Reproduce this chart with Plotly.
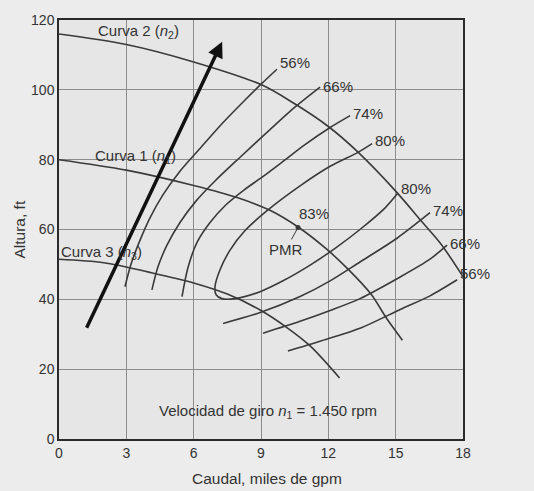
import plotly.graph_objects as go

# Head curves H(Q) for three pump speeds (Q in thousands of gpm, H in ft)
curve2_q = [0, 3, 6, 9, 10.5, 12, 13.3, 15, 16.2, 17, 18]
curve2_h = [116, 113, 108, 101.5, 96, 89.5, 82.3, 71, 62, 56, 46.5]

curve1_q = [0, 3, 6, 8, 9.4, 10.7, 11.9, 12.9, 13.9, 14.6, 15.3]
curve1_h = [80, 77, 72.6, 69, 65.5, 60.5, 54.5, 48.5, 41.5, 34.5, 28.3]

curve3_q = [0, 2, 4, 6, 7.5, 9, 10.2, 11.2, 12.5]
curve3_h = [51.5, 50.5, 47.8, 44.7, 41.5, 36.8, 31.7, 26.6, 17.5]

# Iso-efficiency lines: left (steep) branches
eff56_left_q = [2.94, 3.21, 3.57, 4.06, 4.63, 5.39, 6.28, 7.26, 8.29, 9.05, 9.71]
eff56_left_h = [43.6, 50.1, 56.3, 63.4, 69.9, 76.7, 83.2, 90.3, 97.1, 101.9, 105.9]

eff66_left_q = [4.14, 4.41, 4.81, 5.39, 6.11, 6.95, 8.07, 9.40, 10.52, 11.63]
eff66_left_h = [42.7, 49.3, 55.5, 62.0, 68.2, 73.9, 80.7, 88.6, 95.1, 100.8]

eff74_left_q = [5.48, 5.75, 6.15, 6.73, 7.44, 8.24, 9.05, 9.94, 10.96, 12.08, 12.97]
eff74_left_h = [40.8, 49.2, 56.3, 62.0, 67.1, 71.3, 75.0, 79.3, 84.3, 89.2, 92.6]

# 80 % line closes into a loop around the best efficiency point
eff80_loop_q = [13.95, 13.32, 12.08, 10.74, 9.27, 8.29, 7.62, 7.17, 6.95, 7.0,
                7.26, 7.84, 8.96, 9.98, 11.19, 12.3, 13.41, 14.53, 15.11]
eff80_loop_h = [84.6, 82.1, 78.1, 72.5, 65.4, 59.7, 54.1, 48.4, 43.6, 41.3,
                40.2, 40.2, 42.2, 45.3, 49.8, 54.6, 60.0, 66.2, 70.5]

# Iso-efficiency lines: right (lower) branches
eff74_right_q = [7.31, 8.96, 10.74, 12.08, 13.41, 15.06, 16.53]
eff74_right_h = [33.1, 36.2, 40.8, 45.3, 50.7, 57.5, 64.8]

eff66_right_q = [9.09, 10.74, 12.08, 13.41, 15.2, 16.53, 17.29]
eff66_right_h = [30.3, 33.7, 36.8, 40.2, 46.4, 51.5, 55.5]

eff56_right_q = [10.2, 11.63, 13.41, 15.2, 16.53, 17.74]
eff56_right_h = [25.2, 28.0, 31.7, 37.1, 41.0, 45.6]

# Best efficiency point (PMR) on curve 1
bep_q = 10.65
bep_h = 60.6

# Direction of increasing speed
speed_arrow_q = [1.2, 7.27]
speed_arrow_h = [31.4, 113.8]

x_ticks = [0, 3, 6, 9, 12, 15, 18]
y_ticks = [0, 20, 40, 60, 80, 100, 120]

LINE = "#3a3a3a"
TEXT = "#333333"
FONT = "Arial, Liberation Sans, sans-serif"
LABEL_SIZE = 15

fig = go.Figure()


def add_line(q, h, smooth=0.9):
    fig.add_trace(go.Scatter(
        x=q, y=h, mode="lines",
        line=dict(color=LINE, width=1.6, shape="spline", smoothing=smooth),
        hoverinfo="skip", showlegend=False, cliponaxis=False,
    ))


for q, h in [(curve2_q, curve2_h), (curve1_q, curve1_h), (curve3_q, curve3_h)]:
    add_line(q, h)

efficiency_lines = [
    (eff56_left_q, eff56_left_h, "56%", 7),
    (eff66_left_q, eff66_left_h, "66%", 1),
    (eff74_left_q, eff74_left_h, "74%", 2),
    (eff80_loop_q, eff80_loop_h, "80%", 4),
    (eff74_right_q, eff74_right_h, "74%", 2),
    (eff66_right_q, eff66_right_h, "66%", 2),
    (eff56_right_q, eff56_right_h, "56%", 6),
]
for q, h, lab, dy in efficiency_lines:
    add_line(q, h, smooth=0.8)
    fig.add_annotation(x=q[-1], y=h[-1], text=lab, showarrow=False,
                       xanchor="left", yanchor="middle", xshift=1, yshift=dy,
                       font=dict(family=FONT, size=LABEL_SIZE, color=TEXT))
# upper end of the 80 % loop carries its own label
fig.add_annotation(x=eff80_loop_q[0], y=eff80_loop_h[0], text="80%", showarrow=False,
                   xanchor="left", yanchor="middle", xshift=1, yshift=3,
                   font=dict(family=FONT, size=LABEL_SIZE, color=TEXT))

# PMR marker
fig.add_trace(go.Scatter(x=[bep_q], y=[bep_h], mode="markers",
                         marker=dict(color=LINE, size=5),
                         hoverinfo="skip", showlegend=False))
fig.add_annotation(x=bep_q, y=bep_h, text="83%", showarrow=False,
                   xanchor="left", yanchor="middle", xshift=-1, yshift=14,
                   font=dict(family=FONT, size=LABEL_SIZE, color=TEXT))
fig.add_annotation(x=bep_q, y=bep_h, text="PMR", showarrow=True,
                   ax=-12, ay=22, arrowhead=0, arrowwidth=1, arrowcolor=LINE,
                   standoff=2, font=dict(family=FONT, size=LABEL_SIZE, color=TEXT))

# Speed arrow
fig.add_annotation(x=speed_arrow_q[1], y=speed_arrow_h[1],
                   ax=speed_arrow_q[0], ay=speed_arrow_h[0],
                   axref="x", ayref="y", xref="x", yref="y",
                   showarrow=True, arrowhead=2, arrowsize=0.9, arrowwidth=3.5,
                   arrowcolor="#111111", text="")

# Curve labels
curve_labels = [
    ("Curva 2 (<i>n</i><sub>2</sub>)", 1.65, 116.8),
    ("Curva 1 (<i>n</i><sub>1</sub>)", 1.5, 80.8),
    ("Curva 3 (<i>n</i><sub>3</sub>)", 0.0, 53.5),
]
for txt, q, h in curve_labels:
    fig.add_annotation(x=q, y=h, text=txt, showarrow=False,
                       xanchor="left", yanchor="middle",
                       font=dict(family=FONT, size=LABEL_SIZE, color=TEXT))

fig.add_annotation(x=9.29, y=7.8, text="Velocidad de giro <i>n</i><sub>1</sub> = 1.450 rpm",
                   showarrow=False, xanchor="center", yanchor="middle",
                   font=dict(family=FONT, size=LABEL_SIZE, color=TEXT))

# Axis titles
fig.add_annotation(xref="paper", yref="paper", x=0.515, y=0, yshift=-39,
                   text="Caudal, miles de gpm", showarrow=False,
                   xanchor="center", yanchor="middle",
                   font=dict(family=FONT, size=15.5, color=TEXT))
fig.add_annotation(xref="paper", yref="paper", x=0, y=0.5, xshift=-40,
                   text="Altura, ft", showarrow=False, textangle=-90,
                   xanchor="center", yanchor="middle",
                   font=dict(family=FONT, size=15.5, color=TEXT))

axis_common = dict(
    showgrid=True, gridcolor="#8c8c8c", gridwidth=1,
    showline=True, linecolor="#2a2a2a", linewidth=1.5, mirror=True,
    zeroline=False, ticks="", tickfont=dict(family=FONT, size=14, color=TEXT),
)
fig.update_xaxes(range=[0, 18], tickvals=x_ticks, ticktext=[str(v) for v in x_ticks],
                 **axis_common)
fig.update_yaxes(range=[0, 120], tickvals=y_ticks, ticktext=[str(v) for v in y_ticks],
                 **axis_common)

fig.update_layout(
    width=534, height=491,
    margin=dict(l=59, r=71, t=15, b=52),
    paper_bgcolor="#ececec", plot_bgcolor="#e6e6e6",
    showlegend=False,
)

fig.write_html("out.html")
